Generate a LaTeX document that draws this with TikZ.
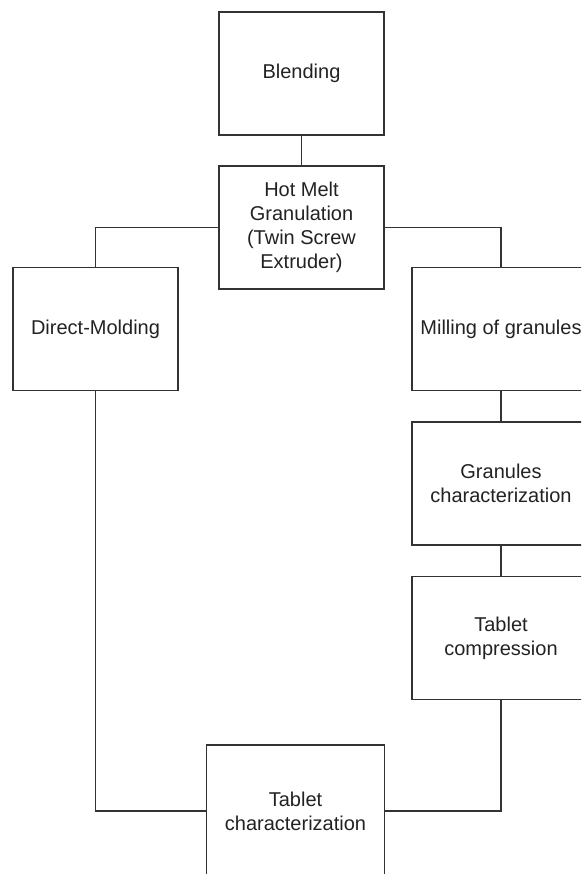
\documentclass[tikz,border=0pt]{standalone}
\usepackage{fontspec}
\setmainfont{Liberation Sans}
\usepackage{xcolor}
\definecolor{boxline}{RGB}{51,51,51}
\definecolor{boxtext}{RGB}{34,34,34}
\usetikzlibrary{positioning}

\begin{document}
\begin{tikzpicture}[x=1pt, y=-1pt,
    stepbox/.style={draw=boxline, line width=1.2pt, rectangle, align=center,
      text=boxtext, font=\fontsize{20}{24}\selectfont,
      minimum width=165pt, minimum height=123pt, inner sep=2pt},
    widebox/.style={stepbox, minimum width=178pt},
    link/.style={draw=boxline, line width=1.2pt}]
  % Page frame (the figure is cut at the right and bottom edges)
  \useasboundingbox (0,0) rectangle (581,874);
  \clip (0,0) rectangle (581,874);

  % --- Top of the chain ---
  \node[stepbox] (blend) at (301.5,73.5) {Blending};
  \node[stepbox] (hmg) at (301.5,227.5) {Hot Melt\\Granulation\\(Twin Screw\\Extruder)};

  % --- Left branch ---
  \node[stepbox] (dm) at (95.5,329) {Direct-Molding};

  % --- Right branch ---
  \node[widebox] (mill) at (501,329) {Milling of granules};
  \node[widebox] (gran) at (501,483.5) {Granules\\characterization};
  \node[widebox] (tabc) at (501,638) {Tablet\\compression};

  % --- Bottom ---
  \node[widebox, minimum height=132pt] (tchar) at (295.5,811) {Tablet\\characterization};

  % Connectors
  \draw[link] (blend) -- (hmg);
  \draw[link] (hmg.west) -| (dm.north);
  \draw[link] (hmg.east) -| (mill.north);
  \draw[link] (mill) -- (gran);
  \draw[link] (gran) -- (tabc);
  \draw[link] (tabc.south) |- (tchar.east);
  \draw[link] (dm.south) |- (tchar.west);
\end{tikzpicture}
\end{document}
